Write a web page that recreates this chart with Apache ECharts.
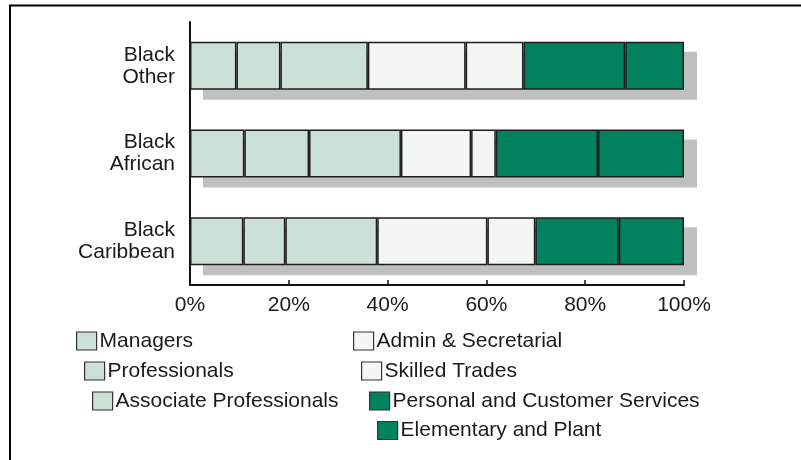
<!DOCTYPE html>
<html>
<head>
<meta charset="utf-8">
<script src="https://cdn.jsdelivr.net/npm/echarts@6/dist/echarts.min.js"></script>
<style>
html,body{margin:0;padding:0;background:#fff;}
#chart{width:801px;height:460px;}
</style>
</head>
<body>
<div id="chart"></div>
<script>
// Categories (top to bottom)
const categories = ['Black\nOther', 'Black\nAfrican', 'Black\nCaribbean'];
// Series values (percent), same order as categories
const managers     = [9.4, 11.0, 10.8];
const professionals= [8.9, 13.1, 8.5];
const associate    = [17.7, 18.6, 18.6];
const admin        = [19.8, 14.2, 22.3];
const skilled      = [11.7, 5.0, 9.7];
const personal     = [20.6, 20.7, 16.9];
const elementary   = [11.9, 17.4, 13.2];
const seriesNames = ['Managers','Professionals','Associate Professionals','Admin & Secretarial','Skilled Trades','Personal and Customer Services','Elementary and Plant'];
const seriesData = [managers, professionals, associate, admin, skilled, personal, elementary];
const tickLabels = ['0%','20%','40%','60%','80%','100%'];

const LIGHT = '#cde0d6', PALE = '#f2f7f3', DARK = '#00825f';
const colors = [LIGHT, LIGHT, LIGHT, PALE, PALE, DARK, DARK];
const FONT = '"Liberation Sans", Arial, sans-serif';

// legend layout (icon left, row center)
const legendPos = [
  [76, 341.5], [84, 371.5], [92, 401.5],
  [353, 341.5], [361, 371.5], [369, 401.5], [377, 431]
];

const totals = categories.map((c, j) => seriesData.reduce((s, arr) => s + arr[j], 0));

const chart = echarts.init(document.getElementById('chart'), null, {renderer:'canvas'});
const BAR_W = 48;
const series = [{
  type: 'custom',
  name: 'shadow',
  z: 1,
  silent: true,
  data: totals.map((t, j) => [t, j]),
  encode: {x: 0, y: 1},
  renderItem: function (params, api) {
    const start = api.coord([0, api.value(1)]);
    const end = api.coord([api.value(0), api.value(1)]);
    return {
      type: 'rect',
      shape: {x: start[0] + 13, y: start[1] - BAR_W / 2 + 10, width: end[0] - start[0], height: BAR_W},
      style: {fill: '#c0c0c0'}
    };
  }
}].concat(seriesNames.map((name, i) => ({
  name: name,
  type: 'bar',
  stack: 'total',
  z: 2,
  barWidth: BAR_W,
  data: seriesData[i],
  itemStyle: {
    color: colors[i],
    borderColor: '#1e1e1e',
    borderWidth: 1.5
  },
  emphasis: {disabled: true}
})));

const legends = seriesNames.map((name, i) => ({
  data: [name],
  left: legendPos[i][0],
  top: legendPos[i][1] - 11,
  padding: 0,
  itemWidth: 20,
  itemHeight: 18,
  icon: 'rect',
  selectedMode: false,
  itemStyle: {borderColor: '#333', borderWidth: 1.2},
  textStyle: {fontFamily: FONT, fontSize: 21, color: '#1a1a1a', padding: [0,0,0,-2]}
}));

chart.setOption({
  animation: false,
  backgroundColor: '#fff',
  graphic: [{
    type: 'rect',
    shape: {x: 10, y: 5.5, width: 900, height: 600},
    style: {fill: 'none', stroke: '#000', lineWidth: 2},
    silent: true
  }],
  grid: {left: 190, top: 22, width: 494, height: 263},
  xAxis: {
    type: 'value',
    min: 0, max: 100, interval: 20,
    axisLine: {show: true, lineStyle: {color: '#111', width: 2}},
    axisTick: {show: true, inside: true, length: 5, lineStyle: {color: '#111', width: 1.5}},
    splitLine: {show: false},
    axisLabel: {
      margin: 10,
      fontFamily: FONT, fontSize: 21, color: '#1a1a1a',
      formatter: (v) => tickLabels[Math.round(v / 20)]
    }
  },
  yAxis: {
    type: 'category',
    inverse: true,
    data: categories,
    axisLine: {show: true, lineStyle: {color: '#111', width: 2}},
    axisTick: {show: false},
    axisLabel: {
      margin: 15,
      fontFamily: FONT, fontSize: 21, color: '#1a1a1a',
      lineHeight: 22, align: 'right', padding: [4, 0, 0, 0]
    }
  },
  legend: legends,
  series: series
});
</script>
</body>
</html>
